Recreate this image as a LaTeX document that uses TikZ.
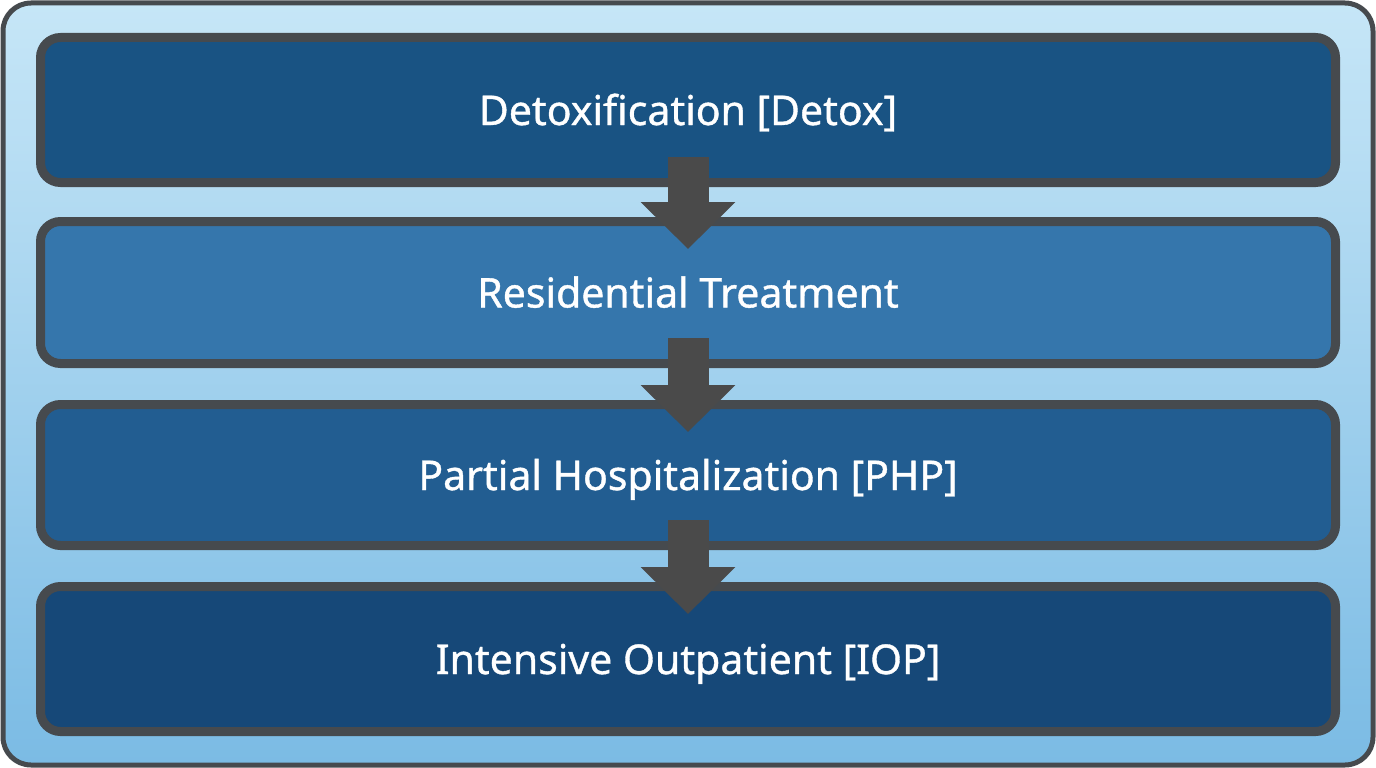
\documentclass[tikz,border=0pt]{standalone}
\usepackage{fontspec}
\setmainfont{Noto Sans}
\newfontfamily\stagefont{Noto Sans}[FakeBold=0.9]
\usetikzlibrary{arrows.meta}
\definecolor{frametop}{HTML}{C6E6F7}
\definecolor{framebot}{HTML}{7BBBE4}
\definecolor{edge}{HTML}{464A4E}
\definecolor{arrowc}{HTML}{4A4A4A}
\definecolor{fillA}{HTML}{195383}
\definecolor{fillB}{HTML}{3576AC}
\definecolor{fillC}{HTML}{225D91}
\definecolor{fillD}{HTML}{164878}
\tikzset{
  x=1pt, y=-1pt,
  stage/.style={draw=edge, line width=9pt, rounded corners=20pt, minimum width=1295pt,
    text=white, font=\stagefont\fontsize{41}{45}\selectfont, inner sep=0pt,
    text height=36pt, text depth=6pt},
  flow/.style={arrowc, line width=41pt, -{Triangle[width=92pt,length=47pt]}},
}
\begin{document}
\begin{tikzpicture}
\useasboundingbox (0,0) rectangle (1376,768);
\shade[top color=frametop, bottom color=framebot, rounded corners=28pt] (3,3) rectangle (1373,765);
\draw[edge, line width=5pt, rounded corners=28pt] (3,3) rectangle (1373,765);
\node[stage, fill=fillA, minimum height=145pt] (b1) at (688,110) {Detoxification [Detox]};
\node[stage, fill=fillB, minimum height=142pt] (b2) at (688,292.5) {Residential Treatment};
\node[stage, fill=fillC, minimum height=141pt] (b3) at (688,475) {Partial Hospitalization [PHP]};
\node[stage, fill=fillD, minimum height=145pt] (b4) at (688,659) {Intensive Outpatient [IOP]};
\draw[flow] ([yshift=30pt]b1.south) -- ([yshift=-32pt]b2.north);
\draw[flow] ([yshift=30pt]b2.south) -- ([yshift=-32pt]b3.north);
\draw[flow] ([yshift=30pt]b3.south) -- ([yshift=-32pt]b4.north);
\end{tikzpicture}
\end{document}
